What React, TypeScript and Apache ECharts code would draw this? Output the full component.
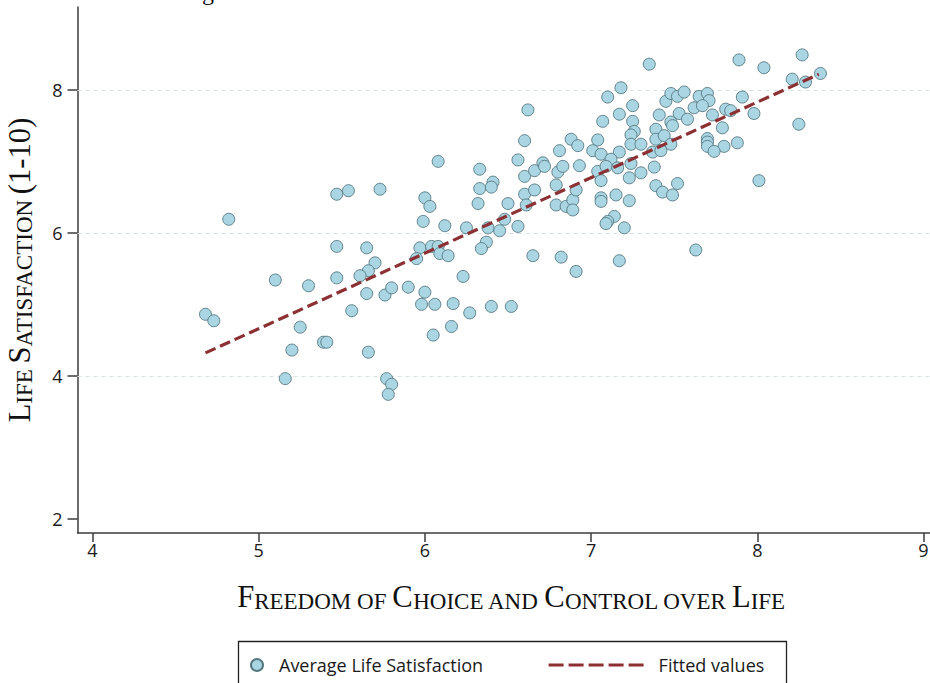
import React, { useEffect, useRef } from "react";
import * as echarts from "echarts";

// Freedom of choice (x) and average life satisfaction (y), one entry per country
const freedom = [
  4.82, 4.68, 4.73, 5.47, 5.54, 5.73, 5.47, 5.65, 5.70, 5.66, 5.61, 5.47, 5.10, 5.30, 5.65, 5.76, 5.80, 5.90, 5.56, 5.25,
  5.20, 5.39, 5.41, 5.66, 5.16, 5.77, 5.80, 5.78, 6.08, 6.33, 6.00, 6.03, 5.99, 6.12, 6.25, 6.33, 6.41, 6.40, 6.32, 6.50,
  6.38, 6.48, 6.45, 6.56, 6.56, 6.60, 6.66, 6.71, 6.72, 6.60, 6.66, 6.61, 6.80, 6.83, 6.81, 6.79, 6.79, 6.85, 6.89, 6.89,
  6.91, 5.97, 5.95, 6.04, 6.08, 6.09, 6.14, 6.37, 6.34, 6.65, 6.82, 6.91, 6.23, 6.00, 5.98, 6.06, 6.17, 6.40, 6.52, 6.27,
  6.16, 6.05, 6.62, 6.60, 6.88, 6.92, 7.35, 7.10, 7.18, 7.25, 7.17, 7.07, 7.25, 7.26, 7.24, 7.04, 7.01, 7.06, 7.17, 7.24,
  7.30, 7.12, 6.93, 7.04, 7.09, 7.16, 7.24, 7.06, 7.30, 7.23, 7.06, 7.06, 7.15, 7.23, 7.14, 7.10, 7.09, 7.20, 7.17, 7.63,
  7.41, 7.45, 7.48, 7.52, 7.56, 7.53, 7.58, 7.62, 7.65, 7.70, 7.48, 7.49, 7.39, 7.39, 7.44, 7.48, 7.37, 7.42, 7.38, 7.39,
  7.43, 7.49, 7.52, 7.89, 8.04, 8.27, 8.21, 8.29, 8.38, 8.25, 7.91, 7.98, 7.81, 7.84, 7.73, 7.79, 7.88, 7.80, 7.70, 7.70,
  7.70, 7.74, 8.01, 7.71, 7.67,
];
const satisfaction = [
  6.19, 4.86, 4.77, 6.54, 6.59, 6.61, 5.81, 5.79, 5.58, 5.47, 5.40, 5.37, 5.34, 5.26, 5.15, 5.13, 5.23, 5.24, 4.91, 4.68,
  4.36, 4.47, 4.47, 4.33, 3.96, 3.96, 3.88, 3.74, 7.00, 6.89, 6.49, 6.37, 6.16, 6.10, 6.07, 6.62, 6.71, 6.64, 6.41, 6.41,
  6.07, 6.19, 6.03, 6.09, 7.02, 6.79, 6.87, 6.98, 6.93, 6.54, 6.60, 6.39, 6.85, 6.93, 7.15, 6.67, 6.39, 6.37, 6.46, 6.32,
  6.60, 5.79, 5.64, 5.81, 5.81, 5.71, 5.68, 5.87, 5.78, 5.68, 5.66, 5.46, 5.39, 5.17, 5.00, 5.00, 5.01, 4.97, 4.97, 4.88,
  4.69, 4.57, 7.72, 7.29, 7.31, 7.22, 8.36, 7.90, 8.03, 7.78, 7.66, 7.56, 7.56, 7.42, 7.37, 7.30, 7.15, 7.10, 7.13, 7.24,
  7.24, 7.03, 6.94, 6.86, 6.93, 6.91, 6.97, 6.73, 6.84, 6.77, 6.49, 6.44, 6.53, 6.45, 6.23, 6.16, 6.13, 6.07, 5.61, 5.76,
  7.65, 7.84, 7.95, 7.91, 7.97, 7.67, 7.59, 7.75, 7.91, 7.95, 7.55, 7.50, 7.45, 7.31, 7.36, 7.24, 7.13, 7.15, 6.92, 6.66,
  6.57, 6.53, 6.69, 8.42, 8.31, 8.49, 8.15, 8.11, 8.23, 7.52, 7.90, 7.67, 7.73, 7.71, 7.65, 7.47, 7.26, 7.21, 7.32, 7.27,
  7.21, 7.14, 6.73, 7.85, 7.78,
];

// Fitted values (linear fit) at the ends of the data range
const fitFreedom = [4.68, 8.37];
const fitSatisfaction = [4.32, 8.22];

const xTicks = [4, 5, 6, 7, 8, 9];
const yTicks = [2, 4, 6, 8];
const yGridLines = [4, 6, 8];

const AXIS_COLOR = "#3c3c3c";
const SERIF = "'Liberation Serif', 'Times New Roman', serif";
const SANS = "'Open Sans', sans-serif";

const nameRich = {
  b: { fontFamily: SERIF, fontSize: 30.6, lineHeight: 30.6, color: "#111", verticalAlign: "bottom" },
  s: { fontFamily: SERIF, fontSize: 23, lineHeight: 23, color: "#111", verticalAlign: "bottom" },
};

export default function App() {
  const ref = useRef<HTMLDivElement>(null);

  useEffect(() => {
    document.body.style.margin = "0";
    if (!ref.current) return;
    const chart = echarts.init(ref.current, undefined, { renderer: "svg" });

    const points = freedom.map((x, i) => [x, satisfaction[i]]);
    const fit = fitFreedom.map((x, i) => [x, fitSatisfaction[i]]);

    chart.setOption({
      animation: false,
      backgroundColor: "#ffffff",
      graphic: [
        {
          type: "text",
          left: 182,
          top: -20,
          style: { text: "Figure 6", fontFamily: SERIF, fontSize: 24, fill: "#111" },
        },
        {
          type: "rect",
          shape: { x: 238.5, y: 641.5, width: 548, height: 70 },
          style: { fill: "none", stroke: "#222", lineWidth: 1.3 },
          z: 0,
        },
      ],
      grid: {
        left: 77.5,
        top: 7,
        width: 854.3,
        height: 526,
        containLabel: false,
        outerBoundsMode: "none",
      },
      xAxis: {
        type: "value",
        min: 3.91,
        max: 9.05,
        splitLine: { show: false },
        axisLine: { show: true, onZero: false, lineStyle: { color: AXIS_COLOR, width: 1.5 } },
        axisTick: { show: true, length: 9, customValues: xTicks, lineStyle: { color: AXIS_COLOR, width: 1.5 } },
        axisLabel: { customValues: xTicks, fontFamily: SANS, fontSize: 18, color: "#1a1a1a", margin: 8 },
        name: "{b|F}{s|REEDOM OF }{b|C}{s|HOICE AND }{b|C}{s|ONTROL OVER }{b|L}{s|IFE}",
        nameLocation: "middle",
        nameGap: 49,
        nameTextStyle: { rich: nameRich, padding: [0, 0, 0, 13] },
      },
      yAxis: {
        type: "value",
        min: 1.8,
        max: 9.16,
        splitLine: { show: false },
        axisLine: { show: true, onZero: false, lineStyle: { color: AXIS_COLOR, width: 1.5 } },
        axisTick: { show: true, length: 10, customValues: yTicks, lineStyle: { color: AXIS_COLOR, width: 1.5 } },
        axisLabel: { customValues: yTicks, fontFamily: SANS, fontSize: 18, color: "#1a1a1a", margin: 15 },
        name: "{b|L}{s|IFE }{b|S}{s|ATISFACTION }{b|(1-10)}",
        nameLocation: "middle",
        nameRotate: 90,
        nameGap: 42,
        nameTextStyle: { rich: nameRich },
      },
      legend: [
        {
          data: ["Average Life Satisfaction"],
          left: 250,
          top: 656,
          padding: 0,
          itemWidth: 12,
          itemHeight: 12,
          selectedMode: false,
          textStyle: { fontFamily: SANS, fontSize: 18, color: "#1a1a1a", padding: [0, 0, 0, 11] },
        },
        {
          data: ["Fitted values"],
          left: 547,
          top: 656,
          padding: 0,
          itemWidth: 95,
          itemHeight: 12,
          selectedMode: false,
          itemStyle: { color: "transparent", borderWidth: 0, opacity: 0 },
          lineStyle: { type: [15, 5], width: 3.2, color: "#8c3034" },
          textStyle: { fontFamily: SANS, fontSize: 18, color: "#1a1a1a", padding: [0, 0, 0, 10] },
        },
      ],
      series: [
        {
          name: "Average Life Satisfaction",
          type: "scatter",
          data: points,
          symbol: "circle",
          symbolSize: 12,
          z: 2,
          itemStyle: { color: "#a9d6e2", borderColor: "#557781", borderWidth: 0.9, opacity: 1 },
          markLine: {
            silent: true,
            z: 1,
            symbol: ["none", "none"],
            label: { show: false },
            lineStyle: { color: "#d8e2e6", type: [4, 4], width: 1.2 },
            data: yGridLines.map((v) => ({ yAxis: v })),
          },
        },
        {
          name: "Fitted values",
          type: "line",
          data: fit,
          symbol: "none",
          showSymbol: false,
          z: 3,
          itemStyle: { color: "#8c3034" },
          lineStyle: { color: "#8c3034", width: 3.2, type: [11, 5] },
        },
      ],
    });

    return () => chart.dispose();
  }, []);

  return (
    <div
      ref={ref}
      style={{ position: "fixed", left: 0, top: 0, width: 930, height: 683, background: "#fff" }}
    />
  );
}
